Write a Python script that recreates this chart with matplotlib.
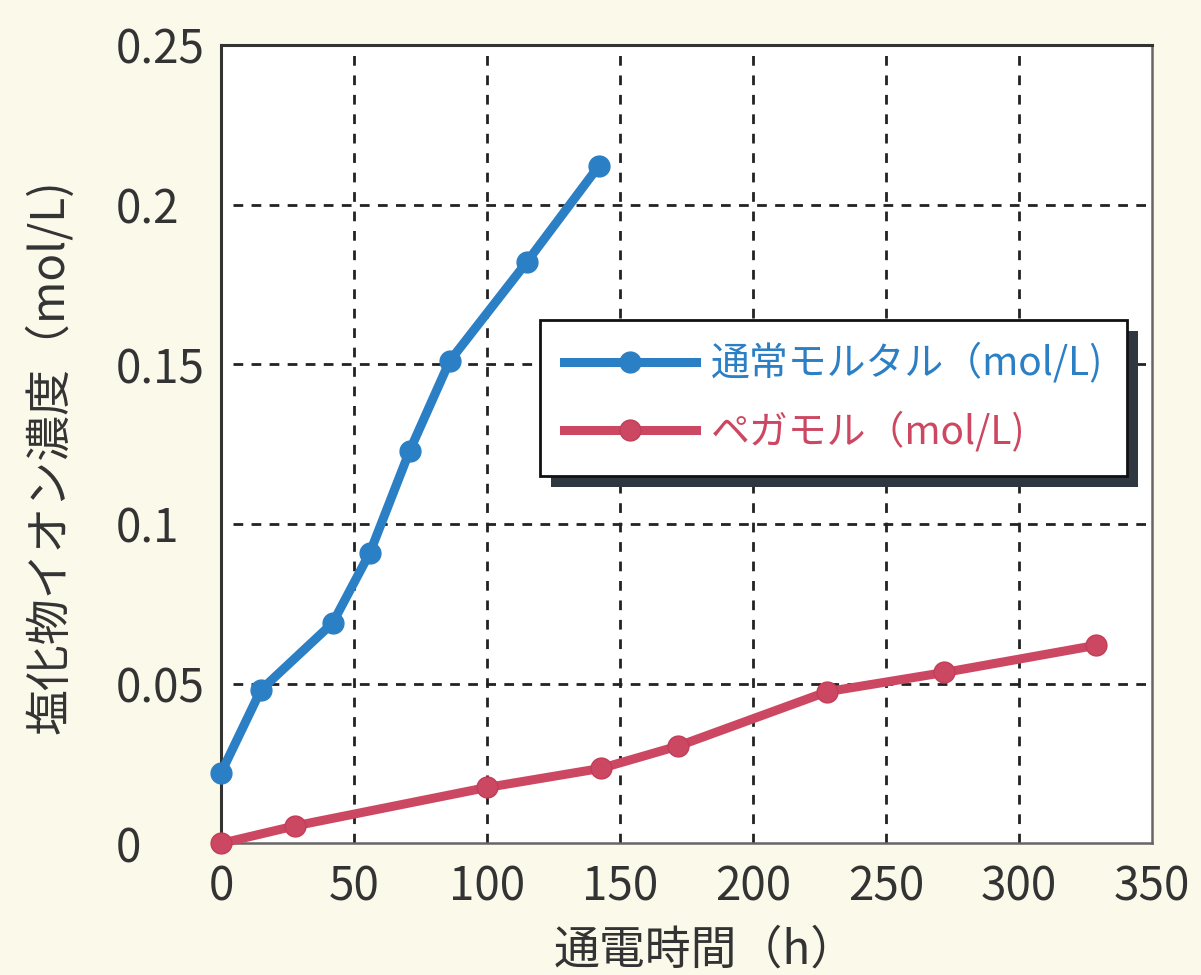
import matplotlib
matplotlib.use("Agg")
import matplotlib.pyplot as plt
from matplotlib.patches import Rectangle

plt.rcParams['font.family'] = ['Noto Sans CJK JP', 'DejaVu Sans']

# data
hours_normal = [0, 15, 42, 56, 71, 86, 115, 142]
cl_normal = [0.022, 0.048, 0.069, 0.091, 0.123, 0.151, 0.182, 0.212]
hours_pega = [0, 28, 100, 143, 172, 228, 272, 329]
cl_pega = [0.0, 0.0055, 0.0175, 0.0235, 0.0305, 0.0475, 0.0535, 0.062]

x_ticks = [0, 50, 100, 150, 200, 250, 300, 350]
y_ticks = [0, 0.05, 0.1, 0.15, 0.2, 0.25]
y_ticklabels = ['0', '0.05', '0.1', '0.15', '0.2', '0.25']

label_normal = '通常モルタル（mol/L)'
label_pega = 'ペガモル（mol/L)'
xlabel = '通電時間（h）'
ylabel = '塩化物イオン濃度（mol/L)'

BLUE = '#2b7fc4'
RED = '#cc4862'
BG = '#fbf9ea'

fig = plt.figure(figsize=(12.01, 9.75), dpi=100, facecolor=BG)
ax = fig.add_axes([0.184, 0.135, 0.775, 0.819])
ax.set_facecolor('white')

ax.plot(hours_normal, cl_normal, color=BLUE, lw=6.5, marker='o', ms=15,
        mec=BLUE, mfc=BLUE, label=label_normal, zorder=3, clip_on=False)
ax.plot(hours_pega, cl_pega, color=RED, lw=6.5, marker='o', ms=15,
        mec='#c23d58', mfc=RED, label=label_pega, zorder=3, clip_on=False)

ax.set_xlim(0, 350)
ax.set_ylim(0, 0.25)
ax.set_xticks(x_ticks)
ax.set_yticks(y_ticks)
ax.set_yticklabels(y_ticklabels)

# dashed grid
for xv in x_ticks[1:-1]:
    ax.axvline(xv, color='#222222', lw=2, ls=(0, (3.5, 3.5)), zorder=1)
for yv in y_ticks[1:-1]:
    ax.axhline(yv, xmin=0.013, color='#222222', lw=2, ls=(0, (3.5, 3)), zorder=1)

ax.tick_params(axis='both', length=0, labelsize=33, colors='#333333')
ax.tick_params(axis='x', pad=14)
ax.tick_params(axis='y', pad=76)
for t in ax.get_yticklabels():
    t.set_horizontalalignment('left')

for side in ['top', 'left']:
    ax.spines[side].set_color('#333333')
    ax.spines[side].set_linewidth(2.2)
for side in ['right', 'bottom']:
    ax.spines[side].set_color('#666666')
    ax.spines[side].set_linewidth(1.8)

ax.set_xlabel(xlabel, fontsize=33, color='#333333')
ax.xaxis.set_label_coords(0.52, -0.134)
ax.xaxis.label.set_va('center')
ax.set_ylabel(ylabel, fontsize=33, color='#333333')
ax.yaxis.set_label_coords(-0.184, 0.484)
ax.yaxis.label.set_va('center')

leg = ax.legend(loc='upper left', bbox_to_anchor=(0.343, 0.655), borderaxespad=0,
                fontsize=28, handlelength=3.4, handletextpad=0.4, borderpad=0.6,
                labelspacing=0.7, fancybox=False, framealpha=1, edgecolor='#111111')
leg.get_frame().set_linewidth(2)
leg.set_zorder(6)
for txt, col in zip(leg.get_texts(), [BLUE, RED]):
    txt.set_color(col)

# drop shadow behind the legend box
fig.canvas.draw()
bb = leg.get_window_extent().transformed(fig.transFigure.inverted())
dx, dy = 11 / 1201, 11 / 975
shadow = Rectangle((bb.x0 + dx, bb.y0 - dy), bb.width, bb.height,
                   transform=fig.transFigure, facecolor='#2f3840',
                   edgecolor='none', zorder=5.5, clip_on=False)
ax.add_artist(shadow)

plt.savefig('out.png', dpi=100, facecolor=BG)
plt.close()
